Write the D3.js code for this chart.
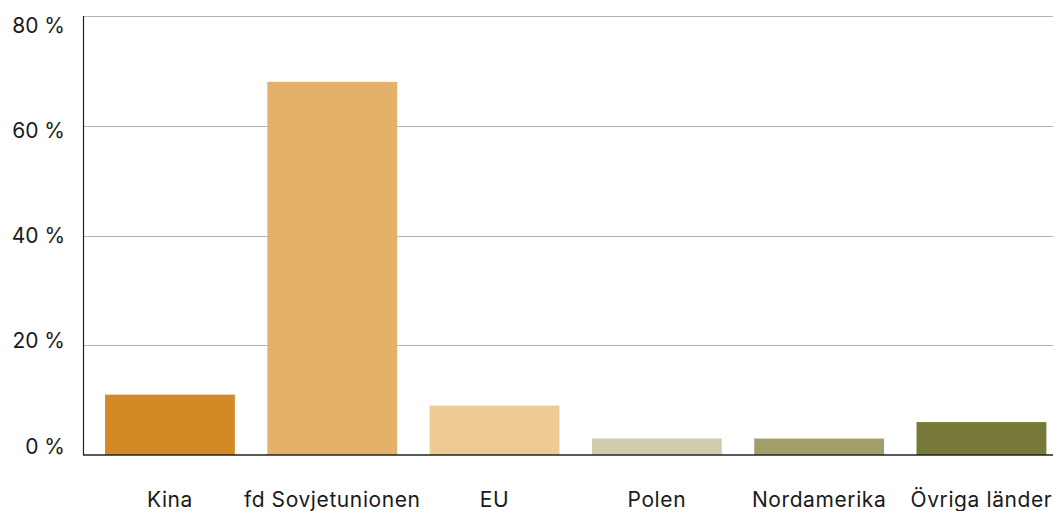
<!DOCTYPE html>
<head>
<meta charset="utf-8">
<title>Andel per ursprung</title>
<script type="text/javascript" src="https://d3js.org/d3.v7.min.js"></script>
<style>
  body { margin: 0; background: #fff; }
  text { font-family: Inter, "Liberation Sans", sans-serif; fill: #1a1a1a; }
</style>
</head>
<body>
<div id="container"></div>
<script>
//------------------------------DATA------------------------------//
const categories = ["Kina", "fd Sovjetunionen", "EU", "Polen", "Nordamerika", "Övriga länder"];
const values = [11, 68, 9, 3, 3, 6];
const colors = ["#D58826", "#E4B16A", "#EECA94", "#D0CCAF", "#A29E6C", "#76793A"];
const yTicks = [0, 20, 40, 60, 80];

//------------------------------SVG-------------------------------//
const width = 1053;
const height = 511;
const svg = d3.select("div#container").append("svg")
    .attr("width", width)
    .attr("height", height);

//-----------------------------SCALES-----------------------------//
const x = d3.scaleBand()
    .domain(categories)
    .range([88.8, 1062.6])
    .paddingInner(0.2)
    .paddingOuter(0.1);

const y = d3.scaleLinear().domain([0, 80]).range([455, 16]);
// tick labels sit slightly inside the gridlines, evenly spaced
const yLabel = d3.scaleLinear().domain([0, 80]).range([446, 25]);

//---------------------------GRIDLINES----------------------------//
svg.append("g")
  .selectAll("line")
  .data(yTicks.filter(d => d > 0))
  .join("line")
    .attr("x1", 84)
    .attr("x2", width)
    .attr("y1", d => Math.round(y(d)) + 0.5)
    .attr("y2", d => Math.round(y(d)) + 0.5)
    .attr("stroke", "#b3b3b3")
    .attr("stroke-width", 1);

//------------------------------BARS------------------------------//
svg.append("g")
  .selectAll("rect")
  .data(values)
  .join("rect")
    .attr("x", (d, i) => x(categories[i]))
    .attr("width", x.bandwidth())
    .attr("y", d => y(d))
    .attr("height", d => y(0) - y(d))
    .attr("fill", (d, i) => colors[i]);

//------------------------------AXES------------------------------//
svg.append("line")
    .attr("x1", 83.5).attr("x2", 83.5)
    .attr("y1", 16).attr("y2", 455)
    .attr("stroke", "#222").attr("stroke-width", 1.2);

svg.append("line")
    .attr("x1", 83).attr("x2", width)
    .attr("y1", 455).attr("y2", 455)
    .attr("stroke", "#222").attr("stroke-width", 1.5);

svg.append("g")
  .selectAll("text")
  .data(yTicks)
  .join("text")
    .attr("x", 65)
    .attr("y", d => yLabel(d))
    .attr("dy", "0.36em")
    .attr("text-anchor", "end")
    .style("font-size", "21px")
    .text(d => d + " %");

svg.append("g")
  .selectAll("text")
  .data(categories)
  .join("text")
    .attr("x", d => x(d) + x.bandwidth() / 2)
    .attr("y", 507)
    .attr("text-anchor", "middle")
    .style("font-size", "21px")
    .style("letter-spacing", "0.6px")
    .text(d => d);
</script>
</body>
